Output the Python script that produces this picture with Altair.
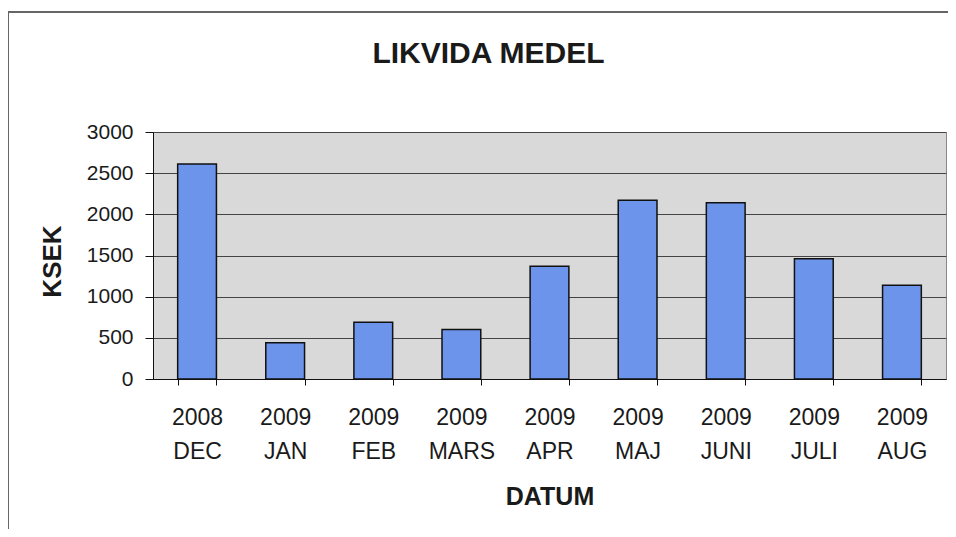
import altair as alt
import pandas as pd

years = ["2008", "2009", "2009", "2009", "2009", "2009", "2009", "2009", "2009"]
months = ["DEC", "JAN", "FEB", "MARS", "APR", "MAJ", "JUNI", "JULI", "AUG"]
values = [2610, 440, 690, 600, 1370, 2170, 2140, 1460, 1140]
y_ticks = [0, 500, 1000, 1500, 2000, 2500, 3000]

df = pd.DataFrame({
    "cat": [f"{y} {m}" for y, m in zip(years, months)],
    "value": values,
})
order = list(df["cat"])

FONT = "Liberation Sans"

bars = alt.Chart(df).mark_bar(
    color="#6b94ea", stroke="#111111", strokeWidth=1.5
).encode(
    x=alt.X("cat:N", sort=order, scale=alt.Scale(paddingInner=0.56, paddingOuter=0.28),
            axis=alt.Axis(
                title="DATUM", labelAngle=0,
                labelExpr="split(datum.label, ' ')",
                labelFont=FONT, labelFontSize=23, labelColor="#1a1a1a",
                labelBaseline="top", labelLineHeight=34, labelPadding=21,
                tickBand="extent", tickSize=6, tickColor="#111111",
                domainColor="#111111", grid=False,
                titleFont=FONT, titleFontSize=25, titleFontWeight="bold",
                titleColor="#1a1a1a", titleY=117, titleBaseline="middle",
            )),
    y=alt.Y("value:Q", scale=alt.Scale(domain=[0, 3000], nice=False),
            axis=alt.Axis(
                title="KSEK", values=y_ticks, format="d",
                labelFont=FONT, labelFontSize=21, labelColor="#1a1a1a",
                labelPadding=12, tickSize=8, tickColor="#111111",
                domainColor="#111111",
                grid=True, gridColor="#444444", gridWidth=1,
                titleFont=FONT, titleFontSize=26, titleFontWeight="bold",
                titleColor="#1a1a1a", titleX=-101, titleY=129,
                titleBaseline="middle",
            )),
)

border_top = alt.Chart(df).mark_rule(color="#666666", strokeWidth=1.5).encode(
    x=alt.value(-145), x2=alt.value(797), y=alt.value(-120)
)
border_left = alt.Chart(df).mark_rule(color="#666666", strokeWidth=1).encode(
    x=alt.value(-145), y=alt.value(-120), y2=alt.value(400)
)

chart = alt.layer(bars, border_top, border_left).properties(
    width=793, height=247,
    autosize=alt.AutoSizeParams(type="none"),
    padding={"left": 145, "top": 124, "right": 2, "bottom": 150},
    title=alt.TitleParams(
        "LIKVIDA MEDEL", font=FONT, fontSize=30, fontWeight="bold",
        color="#1a1a1a", anchor="middle", frame="group", baseline="alphabetic",
        dx=-61, offset=-82,
    ),
).configure(background="white").configure_view(
    fill="#d9d9d9", stroke="#888888", strokeWidth=1
)

chart.save("out.html", embed_options={"renderer": "svg", "actions": False})
